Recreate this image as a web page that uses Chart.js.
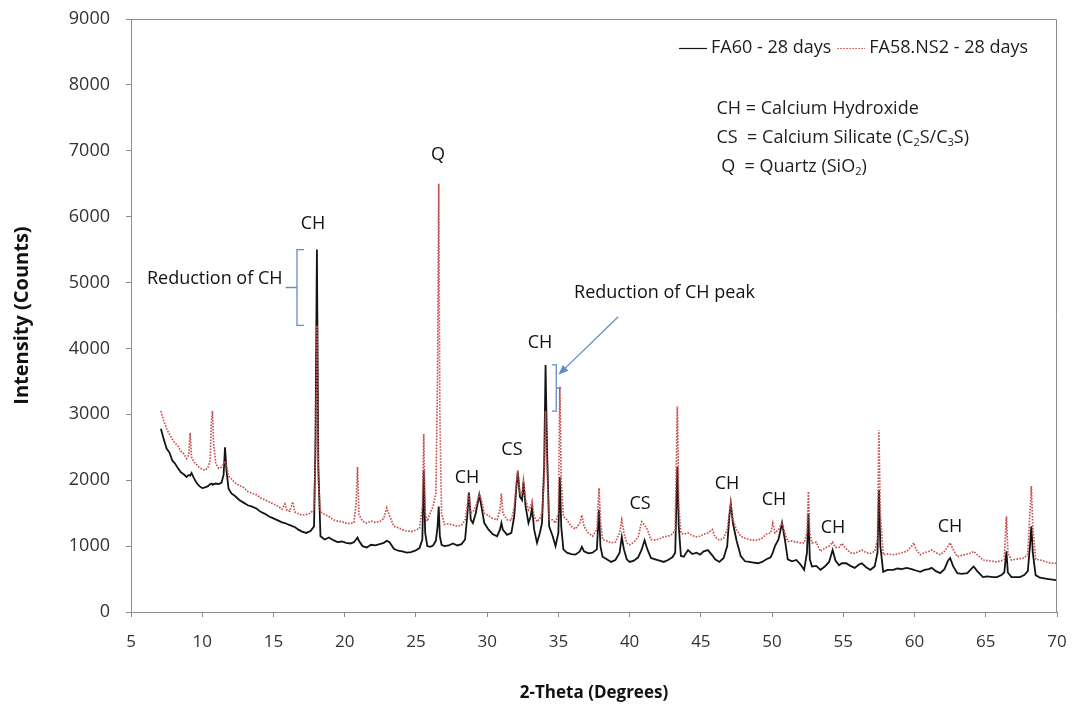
<!DOCTYPE html>
<html>
<head>
<meta charset="utf-8">
<title>XRD FA60 / FA58.NS2</title>
<script src="https://cdn.jsdelivr.net/npm/chart.js@4.4.1/dist/chart.umd.min.js"></script>
<style>
  html, body { margin: 0; padding: 0; background: #fff; }
  #box { width: 1075px; height: 713px; }
</style>
</head>
<body>
<div id="box"><canvas id="stage" width="1075" height="713"></canvas></div>
<script>
// 2-theta positions (degrees), shared by both scans
const twoTheta = [
  7.1, 7.3, 7.5, 7.7, 7.9, 8.1, 8.3, 8.5, 8.7, 8.9,
  9.05, 9.15, 9.25, 9.4, 9.6, 9.8, 10.0, 10.2, 10.4, 10.55,
  10.65, 10.72, 10.8, 10.95, 11.15, 11.35, 11.5, 11.6, 11.7, 11.85,
  12.05, 12.3, 12.6, 12.9, 13.2, 13.5, 13.8, 14.1, 14.4, 14.7,
  15.0, 15.3, 15.6, 15.8, 15.95, 16.15, 16.35, 16.5, 16.75, 17.0,
  17.3, 17.6, 17.85, 17.95, 18.05, 18.15, 18.3, 18.6, 18.9, 19.2,
  19.5, 19.8, 20.1, 20.4, 20.65, 20.8, 20.9, 21.0, 21.25, 21.55,
  21.85, 22.15, 22.45, 22.75, 22.95, 23.15, 23.45, 23.75, 24.05, 24.35,
  24.65, 24.95, 25.25, 25.45, 25.55, 25.65, 25.8, 26.0, 26.2, 26.4,
  26.52, 26.6, 26.68, 26.8, 27.0, 27.3, 27.6, 27.9, 28.2, 28.45,
  28.6, 28.72, 28.85, 29.0, 29.2, 29.45, 29.6, 29.8, 30.1, 30.4,
  30.7, 30.9, 31.0, 31.1, 31.4, 31.7, 31.9, 32.05, 32.15, 32.3,
  32.45, 32.55, 32.7, 32.9, 33.05, 33.15, 33.3, 33.5, 33.7, 33.85,
  34.0, 34.1, 34.2, 34.35, 34.6, 34.8, 35.0, 35.1, 35.2, 35.35,
  35.6, 35.9, 36.2, 36.5, 36.65, 36.8, 37.1, 37.4, 37.7, 37.85,
  37.95, 38.1, 38.4, 38.7, 39.0, 39.3, 39.45, 39.6, 39.8, 40.0,
  40.3, 40.6, 40.85, 41.05, 41.25, 41.5, 41.8, 42.1, 42.4, 42.7,
  43.0, 43.2, 43.35, 43.45, 43.6, 43.8, 44.1, 44.4, 44.7, 44.95,
  45.2, 45.5, 45.8, 46.0, 46.3, 46.6, 46.85, 47.0, 47.1, 47.25,
  47.5, 47.8, 48.1, 48.4, 48.7, 49.0, 49.3, 49.6, 49.9, 50.05,
  50.2, 50.45, 50.7, 50.9, 51.1, 51.4, 51.7, 52.0, 52.25, 52.45,
  52.55, 52.65, 52.8, 53.1, 53.4, 53.7, 54.0, 54.25, 54.45, 54.7,
  54.9, 55.2, 55.5, 55.8, 56.1, 56.3, 56.6, 56.9, 57.2, 57.4,
  57.5, 57.6, 57.8, 58.1, 58.5, 58.8, 59.1, 59.45, 59.8, 59.95,
  60.1, 60.4, 60.7, 61.0, 61.2, 61.5, 61.8, 62.1, 62.35, 62.5,
  62.7, 63.0, 63.3, 63.7, 64.0, 64.15, 64.4, 64.8, 65.1, 65.5,
  65.8, 66.1, 66.3, 66.45, 66.55, 66.8, 67.1, 67.4, 67.7, 67.95,
  68.1, 68.2, 68.3, 68.5, 68.8, 69.1, 69.4, 69.7, 70.0
];

// FA60 - 28 days (counts)
const fa60 = [
  2780, 2620, 2480, 2420, 2300, 2250, 2180, 2120, 2090, 2050,
  2080, 2070, 2110, 2040, 1960, 1910, 1880, 1890, 1910, 1940,
  1950, 1930, 1940, 1950, 1940, 1960, 2080, 2500, 2150, 1870,
  1800, 1760, 1700, 1660, 1620, 1600, 1570, 1520, 1490, 1450,
  1420, 1390, 1360, 1350, 1335, 1320, 1300, 1290, 1250, 1220,
  1200, 1230, 1300, 2600, 5500, 2200, 1150, 1100, 1130, 1090,
  1060, 1070, 1050, 1040, 1060, 1100, 1130, 1080, 1000, 980,
  1020, 1010, 1030, 1050, 1080, 1060, 960, 930, 920, 900,
  910, 930, 970, 1100, 2150, 1200, 1000, 990, 1010, 1080,
  1300, 1600, 1150, 1020, 1000, 1010, 1040, 1010, 1030, 1100,
  1450, 1820, 1400, 1350, 1500, 1780, 1600, 1350, 1250, 1180,
  1150, 1250, 1350, 1250, 1170, 1200, 1450, 1900, 2130, 1750,
  1700, 1980, 1600, 1350, 1450, 1580, 1250, 1050, 1200, 1350,
  2200, 3750, 2500, 1300, 1150, 1000, 1200, 2050, 1300, 950,
  900, 880, 870, 920, 990, 920, 890, 900, 950, 1550,
  1000, 840, 800, 760, 790, 900, 1140, 950, 800, 760,
  780, 830, 950, 1090, 950, 820, 800, 780, 760, 790,
  830, 900, 2200, 1300, 850, 840, 940, 880, 900, 870,
  920, 940, 860, 800, 760, 820, 1000, 1450, 1650, 1350,
  1090, 850, 770, 760, 750, 740, 760, 800, 830, 900,
  1000, 1100, 1350, 1100, 800, 770, 790, 720, 640, 900,
  1500, 800, 690, 700, 640, 690, 760, 940, 780, 710,
  740, 740, 700, 670, 720, 740, 680, 640, 690, 900,
  1850, 1000, 610, 640, 640, 660, 650, 670, 650, 640,
  630, 610, 640, 650, 670, 620, 590, 650, 780, 820,
  700, 590, 580, 590, 660, 690, 620, 530, 540, 530,
  530, 560, 600, 920, 600, 530, 530, 530, 560, 620,
  1000, 1300, 900, 560, 520, 510, 500, 490, 480
];

// FA58.NS2 - 28 days (counts)
const fa58ns2 = [
  3050, 2900, 2780, 2700, 2620, 2560, 2520, 2440, 2400, 2330,
  2380, 2720, 2350, 2280, 2240, 2190, 2170, 2150, 2190, 2300,
  2900, 3050, 2550, 2250, 2180, 2200, 2240, 2290, 2230, 2060,
  2020, 1960, 1920, 1890, 1830, 1800, 1780, 1730, 1700, 1670,
  1640, 1610, 1560, 1640, 1540, 1530, 1670, 1520, 1490, 1470,
  1480, 1500, 1560, 2400, 4350, 2000, 1520, 1480, 1450, 1400,
  1380, 1370, 1350, 1340, 1360, 1650, 2200, 1480, 1380, 1350,
  1380, 1360, 1370, 1420, 1580, 1460, 1300, 1280, 1250, 1230,
  1220, 1240, 1270, 1600, 2700, 1500, 1380, 1500, 1600, 1800,
  3600, 6500, 3000, 1500, 1330, 1340, 1320, 1300, 1320, 1400,
  1600, 1830, 1500, 1520, 1600, 1800, 1700, 1500, 1460, 1420,
  1400, 1550, 1800, 1500, 1400, 1390, 1600, 1950, 2150, 1800,
  1800, 2000, 1700, 1550, 1600, 1680, 1450, 1370, 1420, 1500,
  2000, 3050, 2200, 1400, 1400, 1350, 1500, 3420, 2000, 1450,
  1400, 1300, 1260, 1350, 1470, 1300, 1200, 1150, 1250, 1880,
  1400, 1100, 1080, 1050, 1060, 1200, 1400, 1200, 1050, 1020,
  1060, 1140, 1370, 1320, 1250, 1100, 1090, 1110, 1140, 1150,
  1180, 1250, 3120, 1600, 1200, 1180, 1200, 1160, 1140, 1150,
  1180, 1200, 1250, 1140, 1090, 1120, 1250, 1500, 1650, 1400,
  1250, 1150, 1120, 1100, 1090, 1090, 1120, 1180, 1200, 1350,
  1200, 1250, 1350, 1200, 1070, 1080, 1060, 1050, 1050, 1200,
  1830, 1200, 1050, 1060, 920, 970, 1000, 1060, 980, 980,
  1040, 960, 900, 890, 920, 940, 900, 890, 920, 1100,
  2760, 1500, 870, 880, 870, 880, 900, 920, 1000, 1050,
  950, 870, 900, 920, 940, 900, 870, 920, 1000, 1050,
  950, 840, 860, 880, 900, 920, 870, 790, 780, 770,
  760, 780, 800, 1450, 900, 790, 800, 810, 820, 880,
  1500, 1910, 1300, 800, 790, 770, 750, 740, 740
];

const xTickValues = [5, 10, 15, 20, 25, 30, 35, 40, 45, 50, 55, 60, 65, 70];
const yTickValues = [0, 1000, 2000, 3000, 4000, 5000, 6000, 7000, 8000, 9000];

// phase labels over the peaks: [text, 2-theta, counts]
const peakNotes = [
  ['CH', 17.78, 5890], ['Q', 26.55, 6940], ['CH', 28.59, 2030], ['CS', 31.74, 2460],
  ['CH', 33.71, 4080], ['CS', 40.73, 1640], ['CH', 46.84, 1940], ['CH', 50.14, 1700],
  ['CH', 54.28, 1280], ['CH', 62.49, 1290]
];

// key text, "_x" marks a subscript
const keyLines = ['CH = Calcium Hydroxide', 'CS  = Calcium Silicate (C_2S/C_3S)', ' Q  = Quartz (SiO_2)'];
const keyAnchors = [[46.1, 7630], [46.1, 7200], [46.1, 6760]];

const FONT = '"Open Sans", "Noto Sans", sans-serif';
const AXIS_GREY = '#8c8c8c';
const NOTE_BLUE = '#5f8fcb';

function points(ys) {
  return twoTheta.map((x, i) => ({ x: x, y: ys[i] }));
}

function drawRich(ctx, str, x, y, size) {
  const parts = str.split(/(_.)/).filter(s => s.length);
  let cx = x;
  parts.forEach(p => {
    if (p[0] === '_') {
      ctx.font = Math.round(size * 0.62) + 'px ' + FONT;
      ctx.fillText(p[1], cx, y + size * 0.3);
      cx += ctx.measureText(p[1]).width;
    } else {
      ctx.font = size + 'px ' + FONT;
      ctx.fillText(p, cx, y);
      cx += ctx.measureText(p).width;
    }
  });
}

function bracket(ctx, x, y, xs, yLo, yHi, capTo, midTo) {
  const px = x.getPixelForValue(xs);
  const top = y.getPixelForValue(yHi);
  const bot = y.getPixelForValue(yLo);
  const mid = (top + bot) / 2;
  const cap = x.getPixelForValue(capTo);
  const m = x.getPixelForValue(midTo);
  ctx.beginPath();
  ctx.moveTo(cap, top); ctx.lineTo(px, top); ctx.lineTo(px, bot); ctx.lineTo(cap, bot);
  ctx.moveTo(px, mid); ctx.lineTo(m, mid);
  ctx.stroke();
}

const decorations = {
  id: 'decorations',
  afterDraw(chart) {
    const { ctx, chartArea: a, scales: { x, y } } = chart;
    ctx.save();

    // frame top + right
    ctx.strokeStyle = AXIS_GREY;
    ctx.lineWidth = 1;
    ctx.beginPath();
    ctx.moveTo(a.left, a.top + 0.5); ctx.lineTo(a.right - 0.5, a.top + 0.5); ctx.lineTo(a.right - 0.5, a.bottom);
    ctx.stroke();

    // legend, right aligned inside the plot
    ctx.font = '18px ' + FONT;
    ctx.textBaseline = 'middle';
    ctx.fillStyle = '#1e1e1e';
    const sets = chart.data.datasets;
    const ly = a.top + 29;
    let cx = a.right - 29;
    for (let i = sets.length - 1; i >= 0; i--) {
      const ds = sets[i];
      const w = ctx.measureText(ds.label).width;
      cx -= w;
      ctx.fillText(ds.label, cx, ly);
      cx -= 4;
      ctx.beginPath();
      ctx.strokeStyle = ds.borderColor;
      ctx.lineWidth = 1.2;
      ctx.setLineDash(ds.borderDash || []);
      ctx.moveTo(cx - 28, ly + 0.5); ctx.lineTo(cx, ly + 0.5);
      ctx.stroke();
      ctx.setLineDash([]);
      cx -= 28 + 6;
    }

    // key
    ctx.fillStyle = '#1e1e1e';
    ctx.textAlign = 'left';
    keyLines.forEach((t, i) => {
      drawRich(ctx, t, x.getPixelForValue(keyAnchors[i][0]), y.getPixelForValue(keyAnchors[i][1]), 18);
    });

    // peak labels
    ctx.font = '18px ' + FONT;
    ctx.textAlign = 'center';
    ctx.fillStyle = '#111';
    peakNotes.forEach(n => ctx.fillText(n[0], x.getPixelForValue(n[1]), y.getPixelForValue(n[2])));

    ctx.textAlign = 'left';
    ctx.font = '18px ' + FONT;
    ctx.fillText('Reduction of CH', x.getPixelForValue(6.12), y.getPixelForValue(5050));
    ctx.fillText('Reduction of CH peak', x.getPixelForValue(36.1), y.getPixelForValue(4840));

    // brackets spanning the drop of the two CH peaks
    const i18 = twoTheta.indexOf(18.05);
    const i34 = twoTheta.indexOf(34.1);
    ctx.strokeStyle = NOTE_BLUE;
    ctx.lineWidth = 1.3;
    bracket(ctx, x, y, 16.65, fa58ns2[i18], fa60[i18], 17.15, 15.85);
    bracket(ctx, x, y, 34.85, fa58ns2[i34], fa60[i34], 34.55, 35.2);

    // arrow to the second bracket
    const x0 = x.getPixelForValue(39.2), y0 = y.getPixelForValue(4480);
    const x1 = x.getPixelForValue(35.0), y1 = y.getPixelForValue(3600);
    const ang = Math.atan2(y1 - y0, x1 - x0);
    ctx.beginPath();
    ctx.moveTo(x0, y0);
    ctx.lineTo(x1 - 6 * Math.cos(ang), y1 - 6 * Math.sin(ang));
    ctx.stroke();
    ctx.fillStyle = NOTE_BLUE;
    ctx.beginPath();
    ctx.moveTo(x1, y1);
    ctx.lineTo(x1 - 10 * Math.cos(ang) + 4 * Math.sin(ang), y1 - 10 * Math.sin(ang) - 4 * Math.cos(ang));
    ctx.lineTo(x1 - 10 * Math.cos(ang) - 4 * Math.sin(ang), y1 - 10 * Math.sin(ang) + 4 * Math.cos(ang));
    ctx.closePath();
    ctx.fill();

    ctx.restore();
  }
};

new Chart(document.getElementById('stage'), {
  type: 'line',
  data: {
    datasets: [
      {
        label: 'FA60 - 28 days',
        data: points(fa60),
        borderColor: '#141414',
        borderWidth: 1.8,
        pointRadius: 0,
        tension: 0,
        order: 1
      },
      {
        label: 'FA58.NS2 - 28 days',
        data: points(fa58ns2),
        borderColor: '#c9504e',
        borderWidth: 1.7,
        borderDash: [1.6, 1.4],
        pointRadius: 0,
        tension: 0,
        order: 0
      }
    ]
  },
  options: {
    responsive: false,
    animation: false,
    devicePixelRatio: 1,
    layout: { padding: { top: 19, right: 18, left: 0, bottom: 0 } },
    plugins: {
      legend: { display: false },
      tooltip: { enabled: false }
    },
    scales: {
      x: {
        type: 'linear',
        min: 5,
        max: 70,
        afterBuildTicks: s => { s.ticks = xTickValues.map(v => ({ value: v })); },
        afterFit: s => { s.height = 101; s.paddingLeft = 0; s.paddingRight = 0; },
        grid: { drawOnChartArea: false, tickLength: 5, color: AXIS_GREY },
        border: { color: AXIS_GREY },
        ticks: { padding: 15, color: '#333', font: { family: FONT, size: 17 }, maxRotation: 0, callback: v => String(v) },
        title: {
          display: true,
          text: '2-Theta (Degrees)',
          color: '#111',
          font: { family: FONT, size: 17, weight: 'bold' },
          padding: { top: 0, bottom: 10 }
        }
      },
      y: {
        min: 0,
        max: 9000,
        afterBuildTicks: s => { s.ticks = yTickValues.map(v => ({ value: v })); },
        afterFit: s => { s.width = 131; s.paddingTop = 0; s.paddingBottom = 0; },
        grid: { drawOnChartArea: false, tickLength: 5, color: AXIS_GREY },
        border: { color: AXIS_GREY },
        ticks: { padding: 16, color: '#333', font: { family: FONT, size: 18 }, callback: v => String(v) },
        title: {
          display: true,
          text: 'Intensity (Counts)',
          color: '#111',
          font: { family: FONT, size: 20, weight: 'bold' },
          padding: { top: 10, bottom: 0 }
        }
      }
    }
  },
  plugins: [decorations]
});
</script>
</body>
</html>
